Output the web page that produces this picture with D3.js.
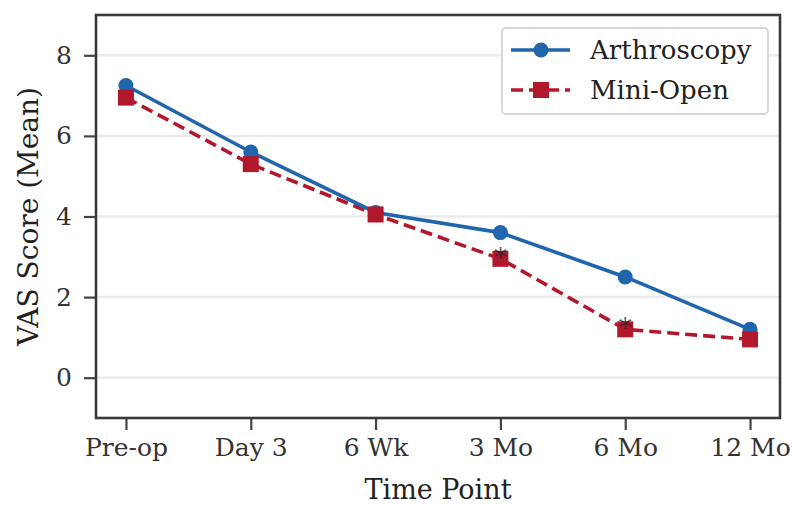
<!DOCTYPE html>
<html><head><meta charset="utf-8">
<script src="https://cdn.jsdelivr.net/npm/d3@7"></script>
<style>body{margin:0;background:#fff}svg{display:block}</style>
</head><body><svg id="c" width="794" height="507"></svg>
<script>
const categories = ["Pre-op","Day 3","6 Wk","3 Mo","6 Mo","12 Mo"];
const arthroscopy = [7.25, 5.6, 4.1, 3.6, 2.5, 1.2];
const miniOpen = [6.95, 5.3, 4.05, 2.95, 1.2, 0.95];
const significant = [false,false,false,true,true,false];
const yTicks = [0,2,4,6,8];

const svg = d3.select("#c");
const m = {l:96, r:780, t:15, b:418};
const x = d3.scaleLinear().domain([-0.24, 5.24]).range([m.l, m.r]);
const y = d3.scaleLinear().domain([-1, 9]).range([m.b, m.t]);
const font = "'DejaVu Serif', serif";
const blue = "#2166ac", red = "#b2182b";

// grid
svg.append("g").selectAll("line").data(yTicks).join("line")
  .attr("x1", m.l).attr("x2", m.r).attr("y1", d=>y(d)).attr("y2", d=>y(d))
  .attr("stroke", "#ebebeb").attr("stroke-width", 2.5);

// axes
const xAxis = svg.append("g").attr("transform", `translate(0,${m.b})`)
  .call(d3.axisBottom(x).tickValues(d3.range(categories.length)).tickFormat(i=>categories[i]).tickSize(12).tickPadding(8));
const yAxis = svg.append("g").attr("transform", `translate(${m.l},0)`)
  .call(d3.axisLeft(y).tickValues(yTicks).tickSize(12).tickPadding(12));
[xAxis, yAxis].forEach(a=>{
  a.select(".domain").remove();
  a.selectAll(".tick line").attr("stroke", "#444").attr("stroke-width", 2.2);
  a.selectAll(".tick text").attr("font-family", font).attr("font-size", 25).attr("fill", "#333");
});

// spines
svg.append("rect").attr("x", m.l).attr("y", m.t).attr("width", m.r-m.l).attr("height", m.b-m.t)
  .attr("fill", "none").attr("stroke", "#3a3a3a").attr("stroke-width", 2.6);

const line = d3.line().x((d,i)=>x(i)).y(d=>y(d));
// mini-open
svg.append("path").datum(miniOpen).attr("d", line).attr("fill","none")
  .attr("stroke", red).attr("stroke-width", 3.6).attr("stroke-dasharray", "12,6");
// arthroscopy
svg.append("path").datum(arthroscopy).attr("d", line).attr("fill","none")
  .attr("stroke", blue).attr("stroke-width", 3.6);
svg.append("g").selectAll("circle").data(arthroscopy).join("circle")
  .attr("cx", (d,i)=>x(i)).attr("cy", d=>y(d)).attr("r", 7.5).attr("fill", blue);
svg.append("g").selectAll("rect").data(miniOpen).join("rect")
  .attr("x", (d,i)=>x(i)-8).attr("y", d=>y(d)-8).attr("width", 16).attr("height", 16).attr("fill", red);
// significance asterisks
svg.append("g").selectAll("text").data(miniOpen.map((v,i)=>({v,i})).filter(d=>significant[d.i])).join("text")
  .attr("x", d=>x(d.i)).attr("y", d=>y(d.v)+8).attr("text-anchor","middle")
  .attr("font-family", font).attr("font-size", 26).attr("fill", "#222").attr("opacity", 0.7).text("*");

// axis labels
svg.append("text").attr("x", (m.l+m.r)/2).attr("y", 499).attr("text-anchor","middle")
  .attr("font-family", font).attr("font-size", 27).attr("fill", "#222").text("Time Point");
svg.append("text").attr("transform", `translate(38,${(m.t+m.b)/2}) rotate(-90)`).attr("text-anchor","middle")
  .attr("font-family", font).attr("font-size", 28).attr("fill", "#222").text("VAS Score (Mean)");

// legend
const lg = svg.append("g");
lg.append("rect").attr("x", 502).attr("y", 28).attr("width", 266).attr("height", 86).attr("rx", 4)
  .attr("fill", "#fff").attr("stroke", "#d6d6d6").attr("stroke-width", 1.8);
const items = [{name:"Arthroscopy", c:blue, dash:null, shape:"circle", yy:50},
               {name:"Mini-Open", c:red, dash:"12,6", shape:"square", yy:90}];
items.forEach(it=>{
  lg.append("line").attr("x1", 511).attr("x2", 570).attr("y1", it.yy).attr("y2", it.yy)
    .attr("stroke", it.c).attr("stroke-width", 3.6).attr("stroke-dasharray", it.dash);
  if (it.shape==="circle") lg.append("circle").attr("cx", 541).attr("cy", it.yy).attr("r", 7.5).attr("fill", it.c);
  else lg.append("rect").attr("x", 533).attr("y", it.yy-8).attr("width", 16).attr("height", 16).attr("fill", it.c);
  lg.append("text").attr("x", 590).attr("y", it.yy+9).attr("font-family", font).attr("font-size", 26)
    .attr("fill", "#222").text(it.name);
});
</script></body></html>
